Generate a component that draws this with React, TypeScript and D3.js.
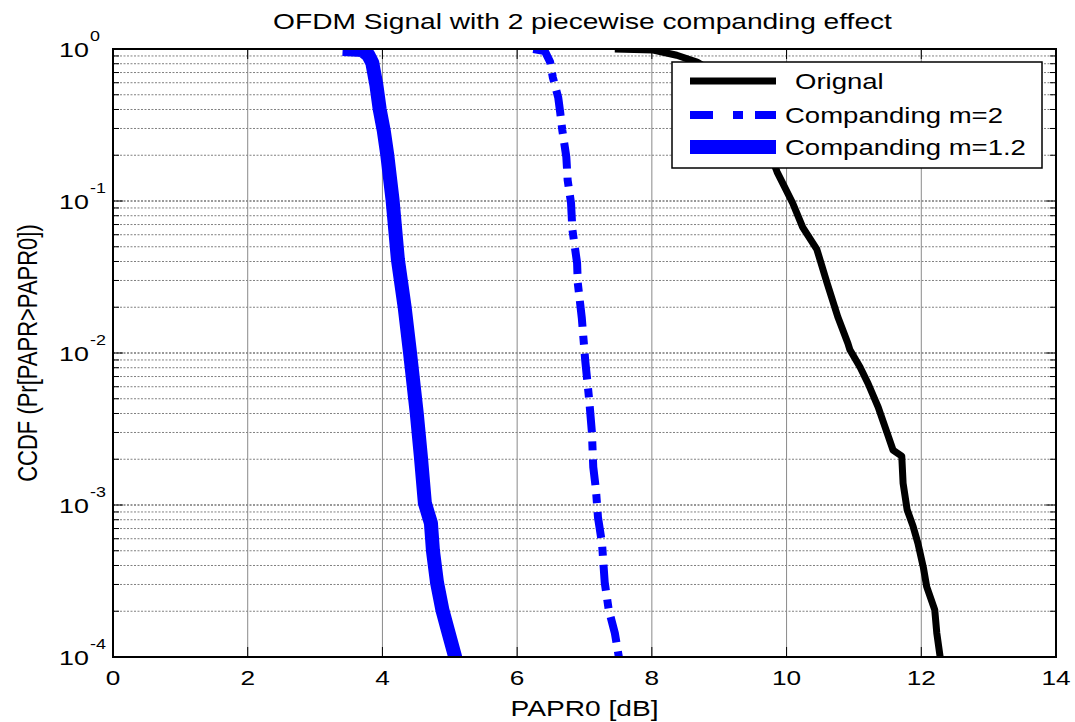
import React from "react";
import * as d3 from "d3";

const title = "OFDM Signal with 2 piecewise companding effect";
const xLabel = "PAPR0 [dB]";
const yLabel = "CCDF (Pr[PAPR>PAPR0])";
const xTicks = [0, 2, 4, 6, 8, 10, 12, 14];
const yDecades = [0, -1, -2, -3, -4];

const seriesNames = ["Orignal", "Companding m=2", "Companding m=1.2"];

const origX = [7.45, 8.02, 8.37, 8.67, 8.94, 9.2, 9.46, 9.68, 9.86, 10.09, 10.24, 10.45, 10.6, 10.76, 10.91, 10.94, 11.09, 11.21, 11.36, 11.49, 11.58, 11.71, 11.73, 11.79, 11.88, 11.95, 12.03, 12.08, 12.2, 12.23, 12.28, 12.3];
const origY = [1, 0.985, 0.91, 0.82, 0.695, 0.537, 0.38, 0.252, 0.155, 0.097, 0.067, 0.048, 0.029, 0.0173, 0.0116, 0.0105, 0.0081, 0.0063, 0.0044, 0.003, 0.0023, 0.0021, 0.00139, 0.00093, 0.00072, 0.00056, 0.00039, 0.00029, 0.000204, 0.000144, 0.0001, 0.00008];

const m2X = [6.24, 6.41, 6.49, 6.53, 6.61, 6.64, 6.67, 6.73, 6.75, 6.8, 6.82, 6.89, 6.9, 6.96, 7.01, 7.07, 7.11, 7.13, 7.17, 7.2, 7.26, 7.3, 7.36, 7.45, 7.51, 7.54];
const m2Y = [1, 0.97, 0.82, 0.65, 0.48, 0.38, 0.293, 0.195, 0.137, 0.097, 0.065, 0.039, 0.029, 0.017, 0.009, 0.0049, 0.003, 0.00178, 0.00126, 0.00083, 0.00056, 0.00031, 0.000204, 0.000144, 0.0001, 0.00008];

const m12X = [3.41, 3.7, 3.79, 3.85, 3.91, 3.96, 4.02, 4.07, 4.15, 4.23, 4.33, 4.41, 4.51, 4.57, 4.63, 4.66, 4.72, 4.75, 4.81, 4.89, 4.97, 5.08, 5.12];
const m12Y = [1, 0.985, 0.913, 0.81, 0.58, 0.4, 0.29, 0.204, 0.102, 0.041, 0.02, 0.01, 0.004, 0.0021, 0.00103, 0.00093, 0.00076, 0.0005, 0.00031, 0.000204, 0.000151, 0.0001, 0.00008];

const W = 1075, H = 722;
const L = 113, T = 49, R = 1056, B = 657;
const SX = 1.28;
const FONT = "'Liberation Sans', Arial, Helvetica, sans-serif";

const x = d3.scaleLinear().domain([0, 14]).range([L, R]);
const y = d3.scaleLog().domain([1e-4, 1]).range([B, T]);

function Txt({ px, py, size, anchor = "middle", rot = false, children }: any) {
  return (
    <text
      transform={`translate(${px},${py}) scale(${SX},1)${rot ? " rotate(-90)" : ""}`}
      fontSize={size}
      textAnchor={anchor}
      fontFamily={FONT}
      fill="#000"
    >
      {children}
    </text>
  );
}

export default function App() {
  const line = d3
    .line<[number, number]>()
    .x((d) => x(d[0]))
    .y((d) => y(d[1]));
  const toPts = (xs: number[], ys: number[]) => xs.map((v, i) => [v, ys[i]] as [number, number]);

  const minorVals: number[] = [];
  for (let k = -4; k <= -1; k++) for (let m = 1; m <= 9; m++) minorVals.push(m * Math.pow(10, k));
  const gridVals = minorVals.filter((v) => v > 1e-4 * 1.0001);

  const series = [
    { pts: toPts(origX, origY), color: "#000", width: 7, dash: undefined, legDash: undefined },
    { pts: toPts(m2X, m2Y), color: "#0000ff", width: 8, dash: "26,9,9,9", legDash: "23,20,10,12" },
    { pts: toPts(m12X, m12Y), color: "#0000ff", width: 14, dash: undefined, legDash: undefined },
  ];

  const legX0 = 672, legY0 = 62, legX1 = 1042, legY1 = 168;
  const legRows = [81, 115, 147];

  return (
    <svg width={W} height={H} style={{ position: "absolute", left: 0, top: 0, background: "#fff" }}>
      <rect x={0} y={0} width={W} height={H} fill="#fff" />
      <defs>
        <clipPath id="plotclip">
          <rect x={L} y={T} width={R - L} height={B - T} />
        </clipPath>
      </defs>
      {gridVals.map((v, i) => {
        const isMajor = Math.abs(Math.log10(v) - Math.round(Math.log10(v))) < 1e-6;
        return (
          <line
            key={"hg" + i}
            x1={L}
            x2={R}
            y1={y(v)}
            y2={y(v)}
            stroke={isMajor ? "#333" : "#808080"}
            strokeWidth={1}
            strokeDasharray="2,1.5"
          />
        );
      })}
      {xTicks.slice(1, -1).map((v) => (
        <line key={"vg" + v} x1={x(v)} x2={x(v)} y1={T} y2={B} stroke="#8a8a8a" strokeWidth={1} />
      ))}
      {xTicks.map((v) => (
        <g key={"xt" + v}>
          <line x1={x(v)} x2={x(v)} y1={B} y2={B - 10} stroke="#000" strokeWidth={1} />
          <line x1={x(v)} x2={x(v)} y1={T} y2={T + 10} stroke="#000" strokeWidth={1} />
        </g>
      ))}
      {minorVals.concat([1]).map((v, i) => {
        const isMajor = Math.abs(Math.log10(v) - Math.round(Math.log10(v))) < 1e-6;
        const len = isMajor ? 10 : 6;
        return (
          <g key={"yt" + i}>
            <line x1={L} x2={L + len} y1={y(v)} y2={y(v)} stroke="#000" strokeWidth={1} />
            <line x1={R} x2={R - len} y1={y(v)} y2={y(v)} stroke="#000" strokeWidth={1} />
          </g>
        );
      })}
      <g clipPath="url(#plotclip)">
        {series.map((s, i) => (
          <path
            key={"s" + i}
            d={line(s.pts) || ""}
            fill="none"
            stroke={s.color}
            strokeWidth={s.width}
            strokeDasharray={s.dash}
            strokeLinejoin="round"
            strokeLinecap="butt"
          />
        ))}
      </g>
      <rect x={L} y={T} width={R - L} height={B - T} fill="none" stroke="#000" strokeWidth={2} />
      {xTicks.map((v) => (
        <Txt key={"xl" + v} px={x(v)} py={685} size={20.5}>
          {String(v)}
        </Txt>
      ))}
      {yDecades.map((k) => (
        <g key={"yl" + k}>
          <Txt px={59} py={y(Math.pow(10, k)) + 8} size={21} anchor="start">
            10
          </Txt>
          <Txt px={90} py={y(Math.pow(10, k)) - 8} size={14} anchor="start">
            {String(k)}
          </Txt>
        </g>
      ))}
      <Txt px={(L + R) / 2 - 2} py={29} size={22}>
        {title}
      </Txt>
      <Txt px={(L + R) / 2} py={716} size={22}>
        {xLabel}
      </Txt>
      <Txt px={37} py={(T + B) / 2} size={22} rot>
        {yLabel}
      </Txt>
      <rect x={legX0} y={legY0} width={legX1 - legX0} height={legY1 - legY0} fill="#fff" stroke="#000" strokeWidth={1.5} />
      {series.map((s, i) => (
        <g key={"lg" + i}>
          <line
            x1={690}
            x2={776}
            y1={legRows[i]}
            y2={legRows[i]}
            stroke={s.color}
            strokeWidth={s.width}
            strokeDasharray={s.legDash}
          />
          <Txt px={i === 0 ? 795 : 785} py={legRows[i] + 8} size={21.5} anchor="start">
            {seriesNames[i]}
          </Txt>
        </g>
      ))}
    </svg>
  );
}
